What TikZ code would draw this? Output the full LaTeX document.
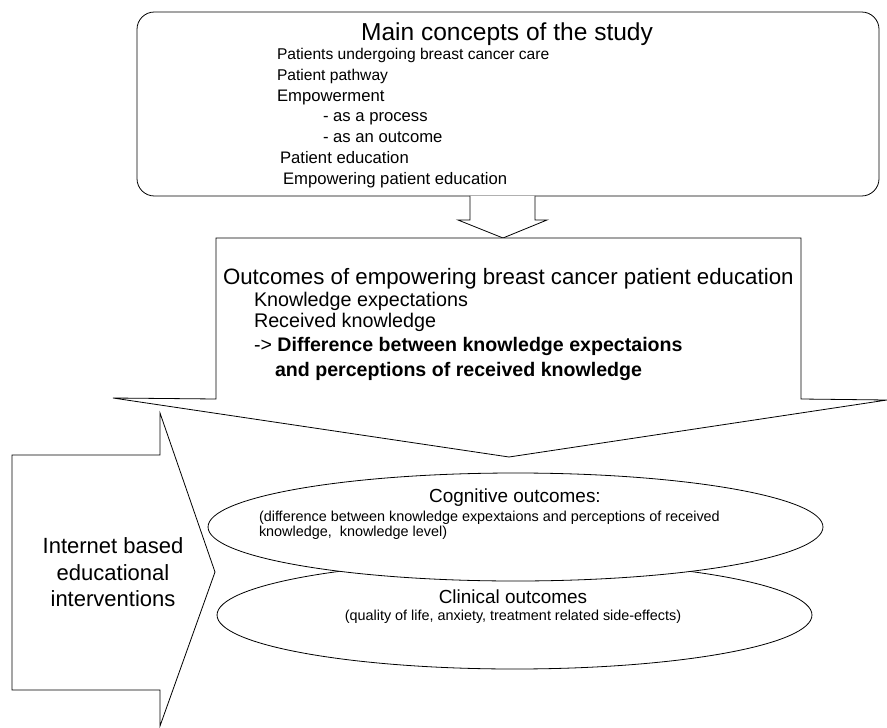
\documentclass[tikz,border=0pt]{standalone}
\usepackage{fontspec}
\setmainfont{Liberation Sans}
\newcommand{\myfs}[1]{\fontsize{#1}{#1}\selectfont}
\begin{document}
\begin{tikzpicture}[x=0.75pt,y=-0.75pt,line width=0.6pt,
  txt/.style={inner sep=0pt,outer sep=0pt},
  shapeline/.style={draw=black,fill=white,line join=miter}]
\useasboundingbox (0,0) rectangle (887,727);
% top rounded box
\draw[shapeline,rounded corners=13pt] (137,12) rectangle (879,196);
% small down arrow
\draw[shapeline] (470,196) -- (470,220) -- (458,220) -- (503,238) -- (547,220) -- (535,220) -- (535,196);
% big arrow callout
\draw[shapeline] (216,399) -- (216,238) -- (801,238) -- (801,399) -- (887,400) -- (509,457) -- (113,398) -- cycle;
% left arrow
\draw[shapeline] (12,455) -- (160,455) -- (160,413) -- (215,572) -- (160,726) -- (160,690) -- (12,690) -- cycle;
% ellipses
\draw[shapeline] (514.5,615) ellipse [x radius=223.1pt,y radius=40.5pt];
\draw[shapeline] (515.5,527) ellipse [x radius=230.6pt,y radius=40.5pt];

% top box text
\node[txt,anchor=base] (title) at (507,41) {\myfs{18.4pt}Main concepts of the study};
\node[txt,anchor=base west] (l1) at (277,60) {\myfs{11.7pt}Patients undergoing breast cancer care};
\node[txt,anchor=base west] (l2) at (277,81) {\myfs{11.7pt}Patient pathway};
\node[txt,anchor=base west] (l3) at (277,102) {\myfs{12.5pt}Empowerment};
\node[txt,anchor=base west] (l4) at (323,122) {\myfs{12.5pt}- as a process};
\node[txt,anchor=base west] (l5) at (323,143) {\myfs{12.5pt}- as an outcome};
\node[txt,anchor=base west] (l6) at (280,164) {\myfs{12.5pt}Patient education};
\node[txt,anchor=base west] (l7) at (283,185) {\myfs{12.5pt}Empowering patient education};

% outcomes box text
\node[txt,anchor=base west] (otitle) at (223,284) {\myfs{16.7pt}Outcomes of empowering breast cancer patient education};
\node[txt,anchor=base west] (o1) at (254,306) {\myfs{14.8pt}Knowledge expectations};
\node[txt,anchor=base west] (o2) at (254,327) {\myfs{14.8pt}Received knowledge};
\node[txt,anchor=base west] (o3) at (254,351) {\myfs{14.7pt}-{}> \textbf{Difference between knowledge expectaions}};
\node[txt,anchor=base west] (o4) at (275,376) {\myfs{14.7pt}\textbf{and perceptions of received knowledge}};

% left arrow text
\node[txt,anchor=base] (i1) at (113,553) {\myfs{16.5pt}Internet based};
\node[txt,anchor=base] (i2) at (113,580) {\myfs{16.5pt}educational};
\node[txt,anchor=base] (i3) at (113,606) {\myfs{16.5pt}interventions};

% ellipse text
\node[txt,anchor=base] (cog) at (515,502) {\myfs{14.2pt}Cognitive outcomes:};
\node[txt,anchor=base west] (cog1) at (259,521) {\myfs{10.8pt}(difference between knowledge expextaions and perceptions of received};
\node[txt,anchor=base west] (cog2) at (259,536) {\myfs{10.8pt}knowledge,\ \ knowledge level)};
\node[txt,anchor=base] (cli) at (513,603) {\myfs{14.2pt}Clinical outcomes};
\node[txt,anchor=base] (cli1) at (513,620) {\myfs{10.8pt}(quality of life, anxiety, treatment related side-effects)};
\end{tikzpicture}
\end{document}
